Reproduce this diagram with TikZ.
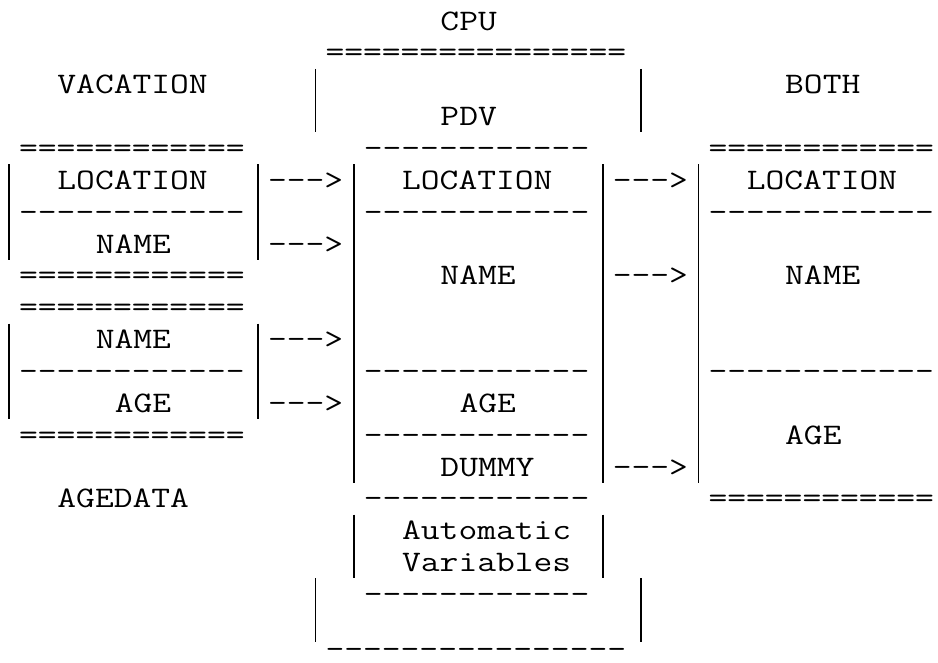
\documentclass[tikz,border=0pt]{standalone}
\usepackage{graphicx}
\usepackage{tikz}
\newcommand{\asc}[1]{\scalebox{1.224}[1]{#1}}
\newcommand{\eqrun}[1]{\foreach \idx in {1,...,#1}{=\kern0pt}}
\newcommand{\dashrun}[1]{\foreach \idx in {1,...,#1}{-\kern0pt}}
\newcommand{\pointer}{\dashrun{3}>}
\tikzset{
  ascii/.style={anchor=base west,inner sep=0pt,outer sep=0pt,
    font=\fontsize{14.9}{15}\selectfont\ttfamily},
  bar/.style={line width=0.9pt,line cap=butt}
}

\begin{document}
\begin{tikzpicture}[x=9.575pt,y=-15.925pt]
  \useasboundingbox (0,-0.945) rectangle (48.98,19.84);
  % CPU frame
  \node[ascii] (cpu) at (23,0) {\asc{CPU}};
  \node[ascii] (cputop) at (17,1) {\asc{\eqrun{16}}};
  \node[ascii] (pdv) at (23,3) {\asc{PDV}};
  \node[ascii] (cpubot) at (17,19.72) {\asc{\dashrun{16}}};
  % data set names
  \node[ascii] (vacation) at (3,2) {\asc{VACATION}};
  \node[ascii] (agedata) at (3,15) {\asc{AGEDATA}};
  \node[ascii] (both) at (41,2) {\asc{BOTH}};
  % VACATION
  \node[ascii] (vactop) at (1,4) {\asc{\eqrun{12}}};
  \node[ascii] (vacloc) at (3,5) {\asc{LOCATION}};
  \node[ascii] (vacsep) at (1,6) {\asc{\dashrun{12}}};
  \node[ascii] (vacname) at (5,7) {\asc{NAME}};
  \node[ascii] (vacbot) at (1,8) {\asc{\eqrun{12}}};
  % AGEDATA
  \node[ascii] (agetop) at (1,9) {\asc{\eqrun{12}}};
  \node[ascii] (agename) at (5,10) {\asc{NAME}};
  \node[ascii] (agesep) at (1,11) {\asc{\dashrun{12}}};
  \node[ascii] (ageage) at (6,12) {\asc{AGE}};
  \node[ascii] (agebot) at (1,13) {\asc{\eqrun{12}}};
  % PDV
  \node[ascii] (pdvtop) at (19,4) {\asc{\dashrun{12}}};
  \node[ascii] (pdvloc) at (21,5) {\asc{LOCATION}};
  \node[ascii] (pdvsepa) at (19,6) {\asc{\dashrun{12}}};
  \node[ascii] (pdvname) at (23,8) {\asc{NAME}};
  \node[ascii] (pdvsepb) at (19,11) {\asc{\dashrun{12}}};
  \node[ascii] (pdvage) at (24,12) {\asc{AGE}};
  \node[ascii] (pdvsepc) at (19,13) {\asc{\dashrun{12}}};
  \node[ascii] (pdvdummy) at (23,14) {\asc{DUMMY}};
  \node[ascii] (pdvbot) at (19,15) {\asc{\dashrun{12}}};
  \node[ascii] (autoa) at (21,16) {\asc{Automatic}};
  \node[ascii] (autob) at (21,17) {\asc{Variables}};
  \node[ascii] (autobot) at (19,18) {\asc{\dashrun{12}}};
  % BOTH
  \node[ascii] (bothtop) at (37,4) {\asc{\eqrun{12}}};
  \node[ascii] (bothloc) at (39,5) {\asc{LOCATION}};
  \node[ascii] (bothsepa) at (37,6) {\asc{\dashrun{12}}};
  \node[ascii] (bothname) at (41,8) {\asc{NAME}};
  \node[ascii] (bothsepb) at (37,11) {\asc{\dashrun{12}}};
  \node[ascii] (bothage) at (41,13) {\asc{AGE}};
  \node[ascii] (bothbot) at (37,15) {\asc{\eqrun{12}}};
  % pointers
  \foreach \col/\row in {14/5,14/7,14/10,14/12,32/5,32/8,32/14}
    \node[ascii] (ptr-\col-\row) at (\col,\row) {\asc{\pointer}};
  % vertical bars
  \foreach \col/\from/\to in {16/2/3,33/2/3,16/18/19,33/18/19,
      0/5/7,13/5/7,0/10/12,13/10/12,18/5/14,31/5/14,18/16/17,31/16/17,36/5/14}
    \draw[bar] (\col+0.47,\from-0.786) -- (\col+0.47,\to+0.214);
\end{tikzpicture}
\end{document}
